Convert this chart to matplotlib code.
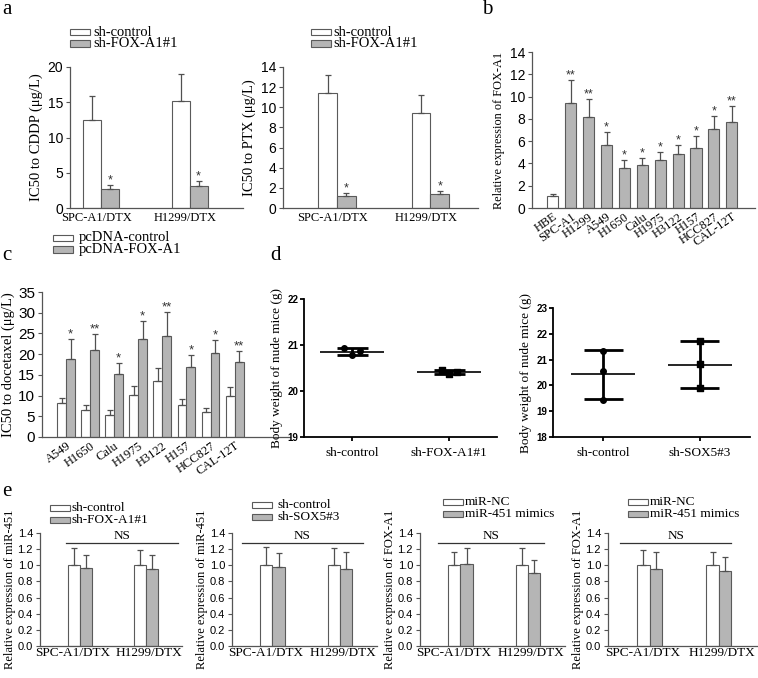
import numpy as np
import matplotlib
matplotlib.use('Agg')
import matplotlib.pyplot as plt
from matplotlib.patches import Rectangle

SERIF = 'Liberation Serif'
SANS = 'Liberation Sans'
plt.rcParams['font.family'] = SANS

# ---- data ----
a_groups = ['SPC-A1/DTX', 'H1299/DTX']
a_cddp_ctrl = [12.5, 15.2]
a_cddp_ctrl_err = [3.4, 3.8]
a_cddp_sh = [2.7, 3.1]
a_cddp_sh_err = [0.6, 0.7]
a_ptx_ctrl = [11.4, 9.4]
a_ptx_ctrl_err = [1.8, 1.85]
a_ptx_sh = [1.2, 1.4]
a_ptx_sh_err = [0.3, 0.3]
a_stars = ['*', '*']

b_cells = ['HBE', 'SPC-A1', 'H1299', 'A549', 'H1650', 'Calu', 'H1975',
           'H3122', 'H157', 'HCC827', 'CAL-12T']
b_expr = [1.05, 9.4, 8.15, 5.65, 3.6, 3.9, 4.35, 4.85, 5.35, 7.05, 7.75]
b_err = [0.2, 2.1, 1.65, 1.2, 0.7, 0.6, 0.65, 0.8, 1.15, 1.2, 1.4]
b_stars = ['', '**', '**', '*', '*', '*', '*', '*', '*', '*', '**']

c_cells = ['A549', 'H1650', 'Calu', 'H1975', 'H3122', 'H157', 'HCC827', 'CAL-12T']
c_ctrl = [8.2, 6.4, 5.4, 10.2, 13.5, 7.8, 6.1, 9.8]
c_ctrl_err = [1.3, 1.3, 1.2, 2.1, 3.2, 1.3, 1.0, 2.3]
c_fox = [18.9, 21.0, 15.1, 23.7, 24.5, 17.0, 20.3, 18.0]
c_fox_err = [4.8, 3.9, 2.8, 4.4, 5.7, 2.9, 3.2, 2.8]
c_stars = ['*', '**', '*', '*', '**', '*', '*', '**']

d1_groups = ['sh-control', 'sh-FOX-A1#1']
d1_points = [[20.93, 20.78, 20.86], [20.46, 20.38, 20.41]]
d2_groups = ['sh-control', 'sh-SOX5#3']
d2_points = [[21.32, 20.56, 19.42], [21.72, 20.83, 19.88]]

e_ylabels = ['Relative expression of miR-451', 'Relative expression of miR-451',
             'Relative expression of FOX-A1', 'Relative expression of FOX-A1']
e_legends = [['sh-control', 'sh-FOX-A1#1'], ['sh-control', 'sh-SOX5#3'],
             ['miR-NC', 'miR-451 mimics'], ['miR-NC', 'miR-451 mimics']]
e_ctrl = [[1.0, 1.0], [1.0, 1.0], [1.0, 1.0], [1.0, 1.0]]
e_ctrl_err = [[0.21, 0.19], [0.23, 0.21], [0.17, 0.21], [0.19, 0.16]]
e_trt = [[0.97, 0.95], [0.98, 0.96], [1.01, 0.90], [0.95, 0.93]]
e_trt_err = [[0.16, 0.18], [0.17, 0.21], [0.21, 0.17], [0.21, 0.17]]

# ---- style ----
W, H = 758, 678
fig = plt.figure(figsize=(W / 100, H / 100), dpi=100)
WHITE, GRAY = 'white', '#b5b5b5'
EDGE = '#5a5a5a'
ERRC = '#505050'
AXC = '#555555'


def px_axes(l, t, r, b):
    return fig.add_axes([l / W, 1 - b / H, (r - l) / W, (b - t) / H])


def style_bar_ax(ax, fs=9.5):
    for s in ['top', 'right']:
        ax.spines[s].set_visible(False)
    for s in ['left', 'bottom']:
        ax.spines[s].set_color(AXC)
        ax.spines[s].set_linewidth(0.9)
    ax.tick_params(axis='x', length=0, pad=3)
    ax.tick_params(axis='y', length=3, width=0.8, color=AXC, labelsize=fs, pad=2)


def bars(ax, x, vals, errs, color, width):
    ax.bar(x, vals, width, color=color, edgecolor=EDGE, linewidth=0.8, zorder=2)
    ax.errorbar(x, vals, yerr=[np.zeros(len(vals)), errs], fmt='none',
                ecolor=ERRC, elinewidth=0.9, capsize=2.5, capthick=0.9, zorder=3)


def stars(ax, x, vals, errs, marks, fs=9):
    for xi, v, e, m in zip(x, vals, errs, marks):
        if m:
            ax.annotate(m, (xi, v + e), xytext=(0, -1), textcoords='offset points',
                        ha='center', va='bottom', fontsize=fs, color='#333333')


def legend(labels, x, y, tx, fs=10, pw=20, gap=11.5):
    # two swatches + labels, placed in figure pixels (row centres y, y + gap)
    for i, (lab, col) in enumerate(zip(labels, [WHITE, GRAY])):
        yc = y + i * gap
        fig.add_artist(Rectangle((x / W, 1 - (yc + 3.2) / H), pw / W, 6.4 / H,
                                 transform=fig.transFigure, facecolor=col,
                                 edgecolor=EDGE, linewidth=0.8))
        fig.text(tx / W, 1 - yc / H, lab, family=SERIF, fontsize=fs,
                 va='center', ha='left')


def panel_label(s, x, y):
    fig.text(x / W, 1 - y / H, s, family=SERIF, fontsize=15, va='center', ha='left')


# ---- panel a ----
xa = np.arange(len(a_groups))
for (l, r, ctrl, cerr, sh, serr, ylab, ymax, step, xl) in [
        (70, 243, a_cddp_ctrl, a_cddp_ctrl_err, a_cddp_sh, a_cddp_sh_err,
         'IC50 to CDDP (μg/L)', 20, 5, (-0.35, 1.6)),
        (283, 478, a_ptx_ctrl, a_ptx_ctrl_err, a_ptx_sh, a_ptx_sh_err,
         'IC50 to PTX (μg/L)', 14, 2, (-0.58, 1.51))]:
    ax = px_axes(l, 67, r, 208)
    style_bar_ax(ax, fs=10)
    bw = 0.2
    bars(ax, xa - bw / 2, ctrl, cerr, WHITE, bw)
    bars(ax, xa + bw / 2, sh, serr, GRAY, bw)
    stars(ax, xa + bw / 2, sh, serr, a_stars)
    ax.set_ylim(0, ymax)
    ax.set_yticks(np.arange(0, ymax + 0.1, step))
    ax.set_xlim(*xl)
    ax.set_xticks(xa - 0.05)
    ax.set_xticklabels(a_groups, family=SERIF, fontsize=9)
    ax.set_ylabel(ylab, family=SERIF, fontsize=10.5, labelpad=3)
legend(['sh-control', 'sh-FOX-A1#1'], 70, 32, 93, fs=10.5)
legend(['sh-control', 'sh-FOX-A1#1'], 311, 32, 333, fs=10.5)
panel_label('a', 2, 10)

# ---- panel b ----
ax = px_axes(532, 52, 755, 208)
style_bar_ax(ax, fs=10)
xb = np.arange(len(b_cells))
bcols = [WHITE] + [GRAY] * (len(b_cells) - 1)
bars(ax, xb, b_expr, b_err, bcols, 0.62)
stars(ax, xb, b_expr, b_err, b_stars)
ax.set_ylim(0, 14)
ax.set_yticks(range(0, 15, 2))
ax.set_xlim(-1.17, 11.3)
ax.set_xticks(xb)
ax.set_xticklabels(b_cells, family=SERIF, fontsize=9, rotation=35,
                   ha='right', va='top', rotation_mode='anchor')
ax.tick_params(axis='x', pad=2)
ax.set_ylabel('Relative expression of FOX-A1', family=SERIF, fontsize=8.8, labelpad=3)
panel_label('b', 482, 10)

# ---- panel c ----
ax = px_axes(42, 292, 290, 437)
style_bar_ax(ax, fs=11)
xc = np.arange(len(c_cells))
bw = 0.37
bars(ax, xc - bw / 2, c_ctrl, c_ctrl_err, WHITE, bw)
bars(ax, xc + bw / 2, c_fox, c_fox_err, GRAY, bw)
stars(ax, xc + bw / 2, c_fox, c_fox_err, c_stars, fs=9.5)
ax.set_ylim(0, 35)
ax.set_yticks(range(0, 36, 5))
ax.set_xlim(-1.0, 9.3)
ax.set_xticks(xc)
ax.set_xticklabels(c_cells, family=SERIF, fontsize=9, rotation=35,
                   ha='right', va='top', rotation_mode='anchor')
ax.tick_params(axis='x', pad=2)
ax.set_ylabel('IC50 to docetaxel (μg/L)', family=SERIF, fontsize=10.5, labelpad=2)
legend(['pcDNA-control', 'pcDNA-FOX-A1'], 53, 238, 79, fs=10.5)
panel_label('c', 2, 255)

# ---- panel d ----
for (l, t, r, groups, pts, ylo, yhi, xlim, cap, jitter) in [
        (304, 299, 497, d1_groups, d1_points, 19, 22, (-0.495, 1.49), 0.16, True),
        (553, 308, 750, d2_groups, d2_points, 18, 23, (-0.52, 1.52), 0.2, False)]:
    ax = px_axes(l, t, r, 437)
    for s in ['top', 'right']:
        ax.spines[s].set_visible(False)
    for s in ['left', 'bottom']:
        ax.spines[s].set_linewidth(1.3)
    ax.tick_params(axis='both', length=3, width=1.3, pad=1)
    markers = ['o', 's']
    for i, p in enumerate(pts):
        p = np.array(p)
        m = p.mean()
        if jitter:
            xs = i + np.array([-0.08, 0.0, 0.08])
            sd = (p.max() - p.min()) / 2
        else:
            xs = np.full(len(p), i)
            sd = p.std(ddof=1)
        ax.scatter(xs, p, s=16, color='black', marker=markers[i], zorder=3)
        ax.hlines(m, i - 0.33, i + 0.33, color='black', lw=1.2)
        ax.vlines(i, m - sd, m + sd, color='black', lw=2)
        ax.hlines([m - sd, m + sd], i - cap, i + cap, color='black', lw=2)
    ax.set_ylim(ylo, yhi)
    ax.set_yticks(range(ylo, yhi + 1))
    ax.set_yticklabels([str(v) for v in range(ylo, yhi + 1)], fontweight='bold', fontsize=7)
    ax.set_xlim(*xlim)
    ax.set_xticks([0, 1])
    ax.set_xticklabels(groups, family=SERIF, fontsize=9.5)
    ax.tick_params(axis='x', pad=4)
    ax.set_ylabel('Body weight of nude mice (g)', family=SERIF, fontsize=9.5, labelpad=3)
panel_label('d', 270, 255)

# ---- panel e ----
e_axes = [(40, 182), (232, 377), (420, 565), (608, 757)]
e_leg = [(50, 508, 71), (252, 505, 277), (443, 502, 465), (628, 502, 650)]
e_ns = [(-0.2, 1.49), (-0.45, 1.34), (-0.34, 1.24), (-0.42, 1.17)]
xe = np.arange(2)
for k in range(4):
    l, r = e_axes[k]
    ax = px_axes(l, 533, r, 646)
    style_bar_ax(ax, fs=8)
    bw = 0.18
    bars(ax, xe - bw / 2, e_ctrl[k], e_ctrl_err[k], WHITE, bw)
    bars(ax, xe + bw / 2, e_trt[k], e_trt_err[k], GRAY, bw)
    ax.set_ylim(0, 1.4)
    ax.set_yticks(np.arange(0, 1.41, 0.2))
    ax.set_yticklabels([f'{v:.1f}' for v in np.arange(0, 1.41, 0.2)])
    ax.set_xlim(-0.6, 1.55)
    ax.set_xticks(xe + np.array([-0.1, 0.05]))
    ax.set_xticklabels(a_groups, family=SERIF, fontsize=9.5)
    ax.tick_params(axis='x', pad=1)
    ax.set_ylabel(e_ylabels[k], family=SERIF, fontsize=9, labelpad=1)
    x0, x1 = e_ns[k]
    ax.plot([x0, x1], [1.28, 1.28], color='#333333', lw=0.9, clip_on=False)
    ax.text((x0 + x1) / 2, 1.29, 'NS', family=SERIF, fontsize=9.5,
            ha='center', va='bottom')
    lx, ly, tx = e_leg[k]
    legend(e_legends[k], lx, ly, tx, fs=9.5, gap=12)
panel_label('e', 2, 492)

fig.savefig('out.png', dpi=100)
